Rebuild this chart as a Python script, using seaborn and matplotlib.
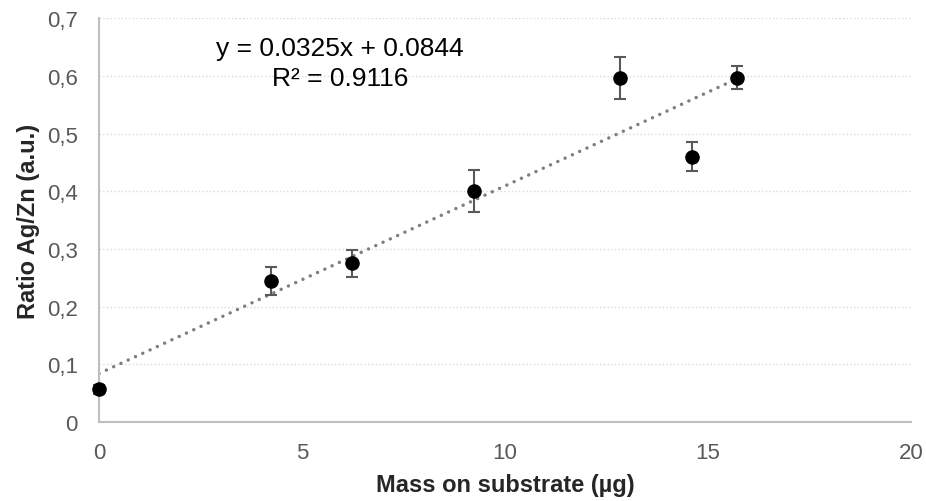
import numpy as np
import pandas as pd
import matplotlib
matplotlib.use('Agg')
import matplotlib.pyplot as plt
import seaborn as sns
from matplotlib.ticker import FuncFormatter

# values
mass = [0.0, 4.24, 6.23, 9.24, 12.82, 14.61, 15.72]
ratio = [0.057, 0.245, 0.275, 0.400, 0.596, 0.460, 0.597]
ratio_err = [0.008, 0.024, 0.024, 0.036, 0.037, 0.025, 0.020]
x_ticks = [0, 5, 10, 15, 20]
y_ticks = [0, 0.1, 0.2, 0.3, 0.4, 0.5, 0.6, 0.7]
fit_slope = 0.0325
fit_intercept = 0.0844
eq_text = 'y = 0.0325x + 0.0844'
r2_text = 'R² = 0.9116'

df = pd.DataFrame({'mass': mass, 'ratio': ratio, 'err': ratio_err})

sns.set_style('white')
plt.rcParams['font.family'] = ['Liberation Sans', 'DejaVu Sans']

fig = plt.figure(figsize=(9.26, 5.02), dpi=100)
ax = fig.add_axes([0.107, 0.157, 0.877, 0.805])

# trendline over the data range
xfit = np.array([min(mass), max(mass)])
fit = pd.DataFrame({'mass': xfit, 'ratio': fit_slope * xfit + fit_intercept})
sns.lineplot(data=fit, x='mass', y='ratio', ax=ax, color='#7f7f7f', lw=2.5,
             zorder=2)
ax.lines[-1].set_dashes([0.01, 2.3])
ax.lines[-1].set_dash_capstyle('round')

ax.errorbar(df['mass'], df['ratio'], yerr=df['err'], fmt='none',
            ecolor='#595959', elinewidth=1.5, capsize=4.5, capthick=1.5,
            zorder=3, clip_on=False)
sns.scatterplot(data=df, x='mass', y='ratio', ax=ax, color='black', s=110,
                edgecolor='black', linewidth=0, zorder=4, clip_on=False)

ax.set_xlim(0, 20)
ax.set_ylim(0, 0.7)
ax.set_xticks(x_ticks)
ax.set_yticks(y_ticks)
ax.yaxis.set_major_formatter(FuncFormatter(
    lambda v, p: '0' if v == 0 else f'{v:.1f}'.replace('.', ',')))

ax.grid(axis='y', color='#d9d9d9', linestyle=':', linewidth=1)
ax.set_axisbelow(True)
for s in ['top', 'right']:
    ax.spines[s].set_visible(False)
for s in ['left', 'bottom']:
    ax.spines[s].set_color('#bfbfbf')
    ax.spines[s].set_linewidth(1.5)
ax.tick_params(axis='both', direction='inout', length=10.5, width=1.3,
               color='#bfbfbf', labelcolor='#595959', labelsize=16)
ax.tick_params(axis='y', pad=10)
ax.tick_params(axis='x', pad=9)

ax.set_xlabel('Mass on substrate (µg)', fontsize=17, fontweight='bold', labelpad=7)
ax.set_ylabel('Ratio Ag/Zn (a.u.)', fontsize=17, fontweight='bold', labelpad=5)

ax.text(5.94, 0.648, eq_text, fontsize=19, ha='center', va='center', color='black')
ax.text(5.94, 0.597, r2_text, fontsize=19, ha='center', va='center', color='black')

fig.savefig('out.png', dpi=100)
